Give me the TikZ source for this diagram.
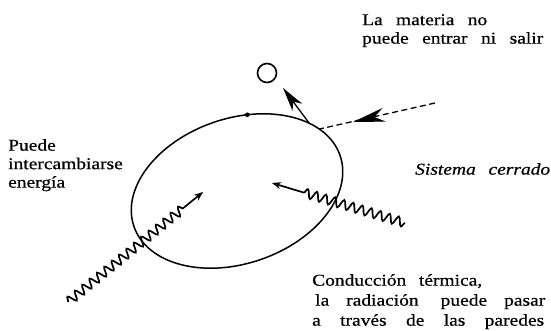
\documentclass[tikz,border=0pt]{standalone}
\usepackage{fontspec}
\setmainfont{Liberation Serif}[FakeStretch=1.18, FakeBold=0.6]
\usetikzlibrary{decorations.pathmorphing,arrows.meta,calc}
\newcommand{\wl}[2]{\makebox[#1pt][s]{#2}}
\begin{document}
\begin{tikzpicture}[x=1pt,y=-1pt,
  lbl/.style={inner sep=0pt, anchor=north west, align=left, font=\fontsize{16.5}{18.5}\selectfont},
  wall/.style={line width=1.5pt},
  bigtip/.style={-{Stealth[length=24pt,width=12pt,inset=7pt]}},
  wavy/.style={line width=1.7pt, -{Stealth[length=9pt,width=7pt]}, decorate,
     decoration={snake, segment length=9.5pt, amplitude=4.5pt, post length=#1}},
]
\useasboundingbox (0,0) rectangle (551,331);
% system wall
\coordinate (c) at (237,191);
\draw[wall, rotate around={19:(c)}] (c) ellipse [x radius=109pt, y radius=72.5pt];
\path[rotate around={19:(c)}] (c) ++(71.5:109pt and 72.5pt) coordinate (dot)
   (c) ++(34:109pt and 72.5pt) coordinate (out1)
   (c) ++(26:109pt and 72.5pt) coordinate (in2);
\fill (dot) circle (2.3pt);
% matter particle
\node[draw, line width=1.6pt, circle, minimum size=19pt, inner sep=0pt] (mat) at (267,73) {};
\coordinate (out2) at (283,88);
\draw[line width=1.3pt, bigtip] (out1) -- (out2);
% incoming matter (dashed)
\coordinate (in1) at (435,103);
\coordinate (inmid) at (353,122);
\draw[line width=1.3pt, dash pattern=on 6pt off 3.5pt] (in1) -- (in2);
\draw[line width=1.3pt, -{Stealth[length=32pt,width=14pt,inset=10pt]}] ($(inmid)!6pt!(in1)$) -- (inmid);
% radiation
\coordinate (w1a) at (68,302);
\coordinate (w1b) at (203,192);
\draw[wavy=24pt] (w1a) -- (w1b);
\coordinate (w2a) at (405,223);
\coordinate (w2b) at (272,183);
\draw[wavy=30pt] (w2a) -- (w2b);
% labels
\node[lbl] (t1) at (362,14) {\wl{125}{La materia no}\\\wl{181}{puede entrar ni salir}};
\node[lbl, font=\fontsize{16.5}{18.5}\selectfont\itshape] (t2) at (415,163) {\wl{135}{Sistema cerrado}};
\node[lbl] (t3) at (8,139) {Puede\\intercambiarse\\energía};
\node[lbl, font=\fontsize{16.5}{20}\selectfont] (t4) at (312,274) {\wl{170}{Conducción térmica,}\\\hspace*{3pt}\wl{230}{la radiación\hspace{5pt} puede pasar}\\\wl{232}{a través de las paredes}};
\end{tikzpicture}
\end{document}
